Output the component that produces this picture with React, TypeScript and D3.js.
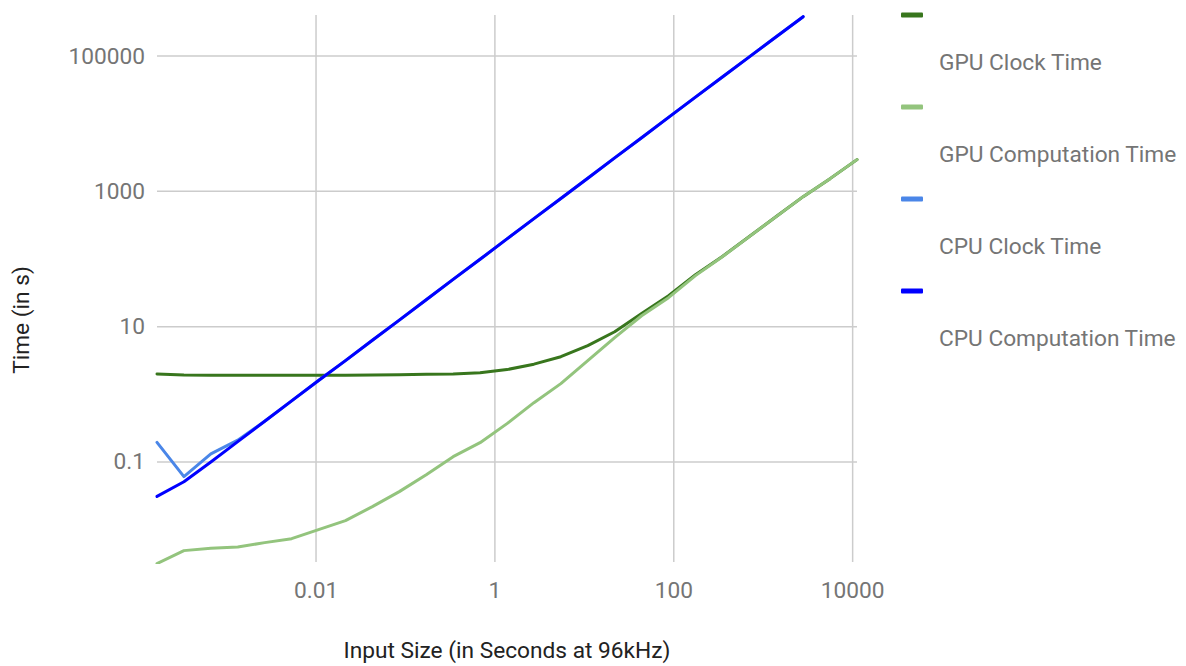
import React from "react";
import * as d3 from "d3";

// Input sizes: 2^k samples at 96 kHz, k = 4..30 (seconds)
const sampleExponents = [4,5,6,7,8,9,10,11,12,13,14,15,16,17,18,19,20,21,22,23,24,25,26,27,28,29,30];
const inputSeconds = sampleExponents.map((k) => Math.pow(2, k) / 96000);

const gpuClock = [2.0,1.93,1.92,1.92,1.91,1.91,1.91,1.91,1.93,1.95,1.98,2.0,2.09,2.32,2.79,3.6,5.24,8.4,15.6,28.7,58.5,109,215,424,834,1540,2940];
const gpuComputation = [0.00315,0.0049,0.00533,0.00554,0.00643,0.00736,0.0100,0.0136,0.0219,0.0365,0.065,0.12,0.193,0.369,0.753,1.44,3.15,6.88,14.5,26.8,56.8,108,214,423,834,1540,2940];
const cpuClock = [0.195,0.0607,0.1315,0.21,0.4,0.8,1.6,3.15,6.3,12.5,25,50,99,198,395,785,1560,3120,6200,12400,24700,49000,97000,193000,381000];
const cpuComputation = [0.031,0.051,0.1,0.2,0.4,0.8,1.6,3.15,6.3,12.5,25,50,99,198,395,785,1560,3120,6200,12400,24700,49000,97000,193000,381000];

const seriesNames = ["GPU Clock Time", "GPU Computation Time", "CPU Clock Time", "CPU Computation Time"];
const seriesColors = ["#38761d", "#93c47d", "#4a86e8", "#0000ff"];
const seriesValues = [gpuClock, gpuComputation, cpuClock, cpuComputation];

const xTicks = [0.01, 1, 100, 10000];
const yTicks = [0.1, 10, 1000, 100000];
const xTickLabels = ["0.01", "1", "100", "10000"];
const yTickLabels = ["0.1", "10", "1000", "100000"];

const xTitle = "Input Size (in Seconds at 96kHz)";
const yTitle = "Time (in s)";

const W = 1186, H = 666;
const plot = { left: 157, right: 857, top: 15, bottom: 562 };
const FONT = "Roboto, 'Noto Sans', sans-serif";
const FS = 22.7;

export default function App() {
  const x = d3.scaleLog()
    .domain([inputSeconds[0], inputSeconds[inputSeconds.length - 1]])
    .range([plot.left, plot.right]);
  const y = d3.scaleLog()
    .domain([Math.pow(10, -2.478), Math.pow(10, 5.606)])
    .range([plot.bottom, plot.top]);

  const line = d3.line<[number, number]>()
    .x((d) => x(d[0]))
    .y((d) => y(d[1]));

  return (
    <svg width={W} height={H} style={{ position: "absolute", left: 0, top: 0, background: "#fff" }} fontFamily={FONT}>
      <defs>
        <clipPath id="plotClip">
          <rect x={plot.left - 2} y={plot.top - 2} width={plot.right - plot.left + 4} height={plot.bottom - plot.top + 4} />
        </clipPath>
      </defs>
      <rect x={0} y={0} width={W} height={H} fill="#fff" />
      {xTicks.map((t, i) => (
        <g key={"xg" + i}>
          <line x1={x(t)} x2={x(t)} y1={plot.top} y2={plot.bottom} stroke="#cccccc" strokeWidth={1.5} />
          <text x={x(t)} y={590} textAnchor="middle" dominantBaseline="central" fontSize={FS} fill="#757575">{xTickLabels[i]}</text>
        </g>
      ))}
      {yTicks.map((t, i) => (
        <g key={"yg" + i}>
          <line x1={plot.left} x2={plot.right} y1={y(t)} y2={y(t)} stroke="#cccccc" strokeWidth={1.5} />
          <text x={145} y={y(t)} textAnchor="end" dominantBaseline="central" fontSize={FS} fill="#757575">{yTickLabels[i]}</text>
        </g>
      ))}
      <g clipPath="url(#plotClip)">
        {seriesValues.map((vals, si) => (
          <path
            key={"s" + si}
            d={line(vals.map((v, i) => [inputSeconds[i], v] as [number, number])) || ""}
            fill="none"
            stroke={seriesColors[si]}
            strokeWidth={3}
            strokeLinejoin="round"
            strokeLinecap="round"
          />
        ))}
      </g>
      <text x={507} y={650} textAnchor="middle" dominantBaseline="central" fontSize={FS} fill="#222">{xTitle}</text>
      <text transform={`translate(21,320) rotate(-90)`} textAnchor="middle" dominantBaseline="central" fontSize={FS} fill="#222">{yTitle}</text>
      {seriesNames.map((name, i) => (
        <g key={"lg" + i}>
          <rect x={901} y={15 + i * 92 - 2.5} width={22} height={5} rx={1} fill={seriesColors[i]} />
          <text x={939} y={62 + i * 92} dominantBaseline="central" fontSize={FS} fill="#757575">{name}</text>
        </g>
      ))}
    </svg>
  );
}
